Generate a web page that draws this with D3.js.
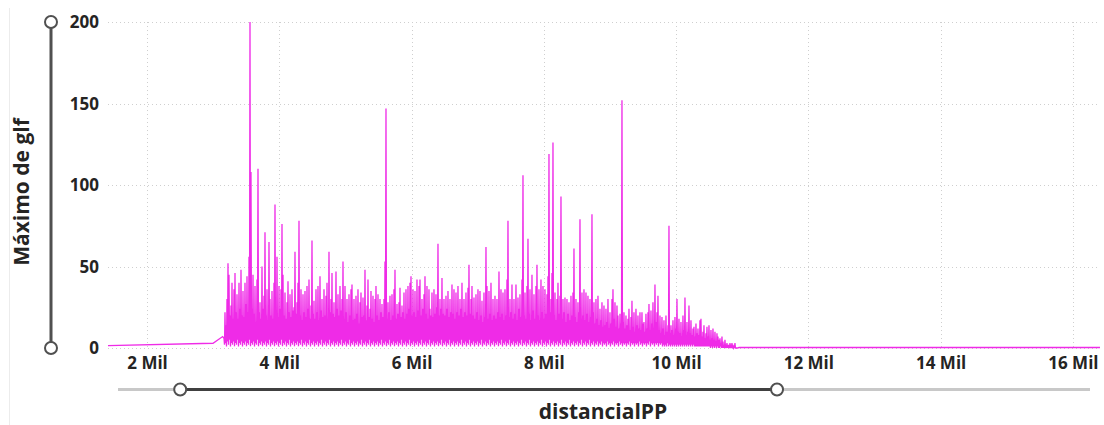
<!DOCTYPE html>
<html>
<head>
<meta charset="utf-8">
<script src="https://cdn.jsdelivr.net/npm/d3@7"></script>
<style>
  html, body { margin: 0; padding: 0; background: #fff; }
  svg { display: block; }
  text { font-family: "Segoe UI", "Open Sans", "Noto Sans", sans-serif; font-weight: 700; fill: #252423; }
</style>
</head>
<body>
<svg id="chart" width="1104" height="425"></svg>
<script>
// Tramo inicial (antes del registro denso) y tramo final plano
const inicioDist = [1410, 2998, 3144];
const inicioGlf = [1.4, 2.9, 7];
const finDist = [10950, 16410];
const finGlf = [0.3, 0.3];

// Registro denso: máximos de glf muestreados cada densoPaso metros desde densoDesde
const densoDesde = 3164;
const densoPaso = 7.56;
const glfDenso = [
  6,2, 22,3, 14,1, 30,4, 52,2, 45,5, 20,1, 26,3, 40,2, 18,4,
  36,1, 46,3, 22,2, 33,5, 18,1, 40,3, 24,2, 48,4, 20,1, 35,3,
  19,2, 40,4, 27,1, 44,3, 22,2, 56,5, 200,1, 108,3, 24,2, 45,4,
  21,1, 38,3, 16,2, 42,5, 110,1, 22,3, 28,2, 18,4, 50,1, 24,3,
  32,2, 71,4, 20,1, 36,3, 17,2, 65,5, 30,1, 20,3, 35,2, 18,4,
  40,1, 88,3, 22,2, 56,4, 19,1, 38,3, 24,2, 36,5, 76,1, 45,3,
  20,2, 34,4, 18,1, 28,3, 41,2, 22,5, 33,1, 19,3, 36,2, 23,4,
  25,1, 59,3, 21,2, 28,4, 40,1, 78,3, 20,2, 36,5, 17,1, 33,3,
  22,2, 35,4, 19,1, 38,3, 24,2, 42,5, 18,1, 26,3, 66,2, 21,4,
  29,1, 18,3, 36,2, 22,4, 38,1, 17,3, 44,2, 23,5, 30,1, 19,3,
  36,2, 20,4, 32,1, 40,3, 18,2, 59,5, 22,1, 30,3, 46,2, 21,4,
  28,1, 19,3, 47,2, 24,4, 33,1, 20,3, 38,2, 23,5, 30,1, 53,3,
  18,2, 38,4, 22,1, 30,3, 16,2, 33,5, 20,1, 36,3, 39,2, 17,4,
  30,1, 18,3, 32,2, 21,4, 36,1, 15,3, 28,2, 34,5, 19,1, 31,3,
  20,2, 48,4, 17,1, 26,3, 42,2, 19,5, 24,1, 35,3, 18,2, 32,4,
  16,1, 30,3, 38,2, 20,4, 33,1, 17,3, 30,2, 22,5, 27,1, 19,3,
  30,2, 53,4, 147,1, 18,3, 28,2, 22,5, 32,1, 17,3, 33,2, 20,4,
  36,1, 48,3, 18,2, 27,4, 21,1, 28,3, 37,2, 19,5, 26,1, 22,3,
  34,2, 18,4, 36,1, 21,3, 38,2, 24,5, 40,1, 44,3, 20,2, 36,4,
  22,1, 35,3, 19,2, 42,4, 23,1, 38,3, 42,2, 20,5, 30,1, 24,3,
  33,2, 44,4, 21,1, 38,3, 18,2, 36,5, 24,1, 20,3, 34,2, 19,4,
  36,1, 21,3, 33,2, 25,4, 64,1, 20,3, 30,2, 24,5, 43,1, 21,3,
  30,2, 20,4, 32,1, 24,3, 35,2, 19,5, 30,1, 22,3, 39,2, 21,4,
  36,1, 18,3, 34,2, 22,4, 38,1, 20,3, 30,2, 24,5, 40,1, 19,3,
  30,2, 22,4, 34,1, 20,3, 37,2, 51,5, 21,1, 30,3, 38,2, 20,4,
  31,1, 18,3, 33,2, 22,4, 36,1, 17,3, 35,2, 20,5, 29,1, 16,3,
  34,2, 19,4, 62,1, 38,3, 18,2, 35,5, 21,1, 40,3, 17,2, 30,4,
  20,1, 32,3, 18,2, 30,4, 22,1, 47,3, 19,2, 36,5, 21,1, 34,3,
  17,2, 36,4, 20,1, 42,3, 78,2, 19,5, 30,1, 22,3, 39,2, 18,4,
  30,1, 21,3, 39,2, 17,4, 31,1, 24,3, 33,2, 19,5, 42,1, 106,3,
  20,2, 34,4, 18,1, 38,3, 67,2, 21,5, 36,1, 17,3, 45,2, 23,4,
  33,1, 18,3, 38,2, 51,4, 20,1, 36,3, 17,2, 42,5, 22,1, 38,3,
  18,2, 36,4, 21,1, 33,3, 44,2, 119,5, 22,1, 30,3, 46,2, 126,4,
  20,1, 34,3, 17,2, 30,4, 40,1, 21,3, 32,2, 93,5, 18,1, 30,3,
  22,2, 31,4, 16,1, 30,3, 21,2, 28,5, 17,1, 32,3, 20,2, 34,4,
  61,1, 19,3, 30,2, 16,4, 28,1, 22,3, 79,2, 18,5, 34,1, 20,3,
  36,2, 17,4, 34,1, 21,3, 32,2, 16,5, 30,1, 19,3, 82,2, 22,4,
  28,1, 15,3, 30,2, 18,4, 32,1, 14,3, 24,2, 17,4, 28,1, 13,3,
  26,2, 14,3, 24,1, 16,4, 30,2, 12,3, 22,1, 15,3, 30,2, 36,4,
  18,1, 28,3, 13,2, 26,3, 20,1, 12,4, 21,2, 15,3, 152,1, 16,3,
  22,2, 12,3, 20,1, 14,3, 18,2, 24,4, 11,1, 19,3, 29,2, 13,3,
  22,1, 10,3, 24,2, 14,3, 20,1, 12,4, 22,2, 11,3, 22,1, 15,3,
  16,2, 10,3, 21,1, 12,3, 22,2, 27,4, 11,1, 23,3, 15,2, 28,3,
  12,1, 39,3, 16,2, 22,3, 32,1, 11,3, 20,2, 9,3, 19,1, 12,2,
  17,1, 8,2, 20,1, 10,3, 14,1, 75,2, 9,1, 14,2, 11,1, 17,2,
  8,1, 19,2, 12,1, 30,2, 10,1, 18,2, 9,1, 16,2, 7,1, 20,2,
  11,1, 31,2, 8,1, 16,2, 10,1, 26,2, 9,1, 17,2, 8,1, 12,2,
  13,1, 7,1, 15,1, 9,1, 12,1, 8,1, 17,1, 18,1, 7,1, 10,1,
  14,1, 6,1, 9,1, 13,1, 7,1, 14,1, 5,0, 11,1, 6,0, 12,1,
  5,0, 10,1, 4,0, 9,1, 7,0, 5,0, 6,1, 3,0, 7,0, 4,0,
  2,0, 5,0, 1,0, 3,0, 2,0, 1,0, 3,0, 1,0, 3,0, 1,0,
  1,0, 3,0, 0,0, 0,0
];

// Ejes
const xTicks = [2000, 4000, 6000, 8000, 10000, 12000, 14000, 16000];
const yTicks = [0, 50, 100, 150, 200];
const xTitulo = "distancialPP";
const yTitulo = "Máximo de glf";

// Rango seleccionado en el deslizador del eje X
const xSeleccion = [2370, 11580];

const colorLinea = "#ef2be7";

// Serie completa
const serie = [];
inicioDist.forEach((d, i) => serie.push([d, inicioGlf[i]]));
glfDenso.forEach((v, i) => serie.push([densoDesde + i * densoPaso, v]));
finDist.forEach((d, i) => serie.push([d, finGlf[i]]));

const svg = d3.select("#chart");

const plot = { left: 108, right: 1100, top: 22, bottom: 348 };
const x = d3.scaleLinear().domain([1410, 16410]).range([plot.left, plot.right]);
const y = d3.scaleLinear().domain([0, 200]).range([plot.bottom, plot.top]);

// Borde izquierdo del visual
svg.append("line")
  .attr("x1", 9.5).attr("x2", 9.5).attr("y1", 8).attr("y2", 425)
  .attr("stroke", "#ececec").attr("stroke-width", 1);

// Cuadrícula punteada
const grid = svg.append("g").attr("class", "grid");
grid.selectAll("line.h").data(yTicks).join("line")
  .attr("class", "h")
  .attr("x1", plot.left).attr("x2", plot.right)
  .attr("y1", d => Math.round(y(d)) + 0.5).attr("y2", d => Math.round(y(d)) + 0.5)
  .attr("stroke", "#cfcfcf").attr("stroke-dasharray", "1,3");
grid.selectAll("line.v").data(xTicks).join("line")
  .attr("class", "v")
  .attr("x1", d => Math.round(x(d)) + 0.5).attr("x2", d => Math.round(x(d)) + 0.5)
  .attr("y1", plot.top).attr("y2", plot.bottom)
  .attr("stroke", "#cfcfcf").attr("stroke-dasharray", "1,3");

// Eje Y
const yAxis = d3.axisLeft(y).tickValues(yTicks).tickSize(0).tickPadding(0).tickFormat(d3.format("d"));
const gy = svg.append("g").attr("transform", "translate(99,0)").call(yAxis);
gy.select(".domain").remove();
gy.selectAll("text").attr("font-size", 17).attr("dy", "0.35em")
  .style("font-family", "'Segoe UI', 'Open Sans', sans-serif").style("font-weight", 700).attr("fill", "#252423");

// Eje X
const xAxis = d3.axisBottom(x).tickValues(xTicks).tickSize(0).tickPadding(0)
  .tickFormat(d => (d / 1000) + " Mil");
const gx = svg.append("g").attr("transform", "translate(0,363)").call(xAxis);
gx.select(".domain").remove();
gx.selectAll("text").attr("font-size", 17).attr("y", 0).attr("dy", "0.35em")
  .style("font-family", "'Segoe UI', 'Open Sans', sans-serif").style("font-weight", 700).attr("fill", "#252423");

// Línea de datos
const linea = d3.line().x(d => x(d[0])).y(d => y(d[1]));
svg.append("path")
  .datum(serie)
  .attr("d", linea)
  .attr("fill", "none")
  .attr("stroke", colorLinea)
  .attr("stroke-width", 1.3);

// Deslizador del eje Y
const sy = svg.append("g");
sy.append("line")
  .attr("x1", 51).attr("x2", 51).attr("y1", y(200)).attr("y2", y(0))
  .attr("stroke", "#505050").attr("stroke-width", 3);
sy.selectAll("circle").data([200, 0]).join("circle")
  .attr("cx", 51).attr("cy", d => y(d)).attr("r", 6)
  .attr("fill", "#fff").attr("stroke", "#505050").attr("stroke-width", 2);

// Deslizador del eje X
const sliderY = 389.5;
const sx = d3.scaleLinear().domain([1410, 16410]).range([118, 1090]);
const sl = svg.append("g");
sl.append("line")
  .attr("x1", 118).attr("x2", 1090).attr("y1", sliderY).attr("y2", sliderY)
  .attr("stroke", "#c8c8c8").attr("stroke-width", 3);
sl.append("line")
  .attr("x1", sx(xSeleccion[0])).attr("x2", sx(xSeleccion[1])).attr("y1", sliderY).attr("y2", sliderY)
  .attr("stroke", "#404040").attr("stroke-width", 3);
sl.selectAll("circle").data(xSeleccion).join("circle")
  .attr("cx", d => sx(d)).attr("cy", sliderY).attr("r", 6)
  .attr("fill", "#fff").attr("stroke", "#505050").attr("stroke-width", 2);

// Títulos de eje
svg.append("text")
  .attr("transform", "translate(29,192) rotate(-90)")
  .attr("text-anchor", "middle")
  .attr("font-size", 21)
  .text(yTitulo);
svg.append("text")
  .attr("x", 603).attr("y", 419)
  .attr("text-anchor", "middle")
  .attr("font-size", 21)
  .text(xTitulo);
</script>
</body>
</html>
